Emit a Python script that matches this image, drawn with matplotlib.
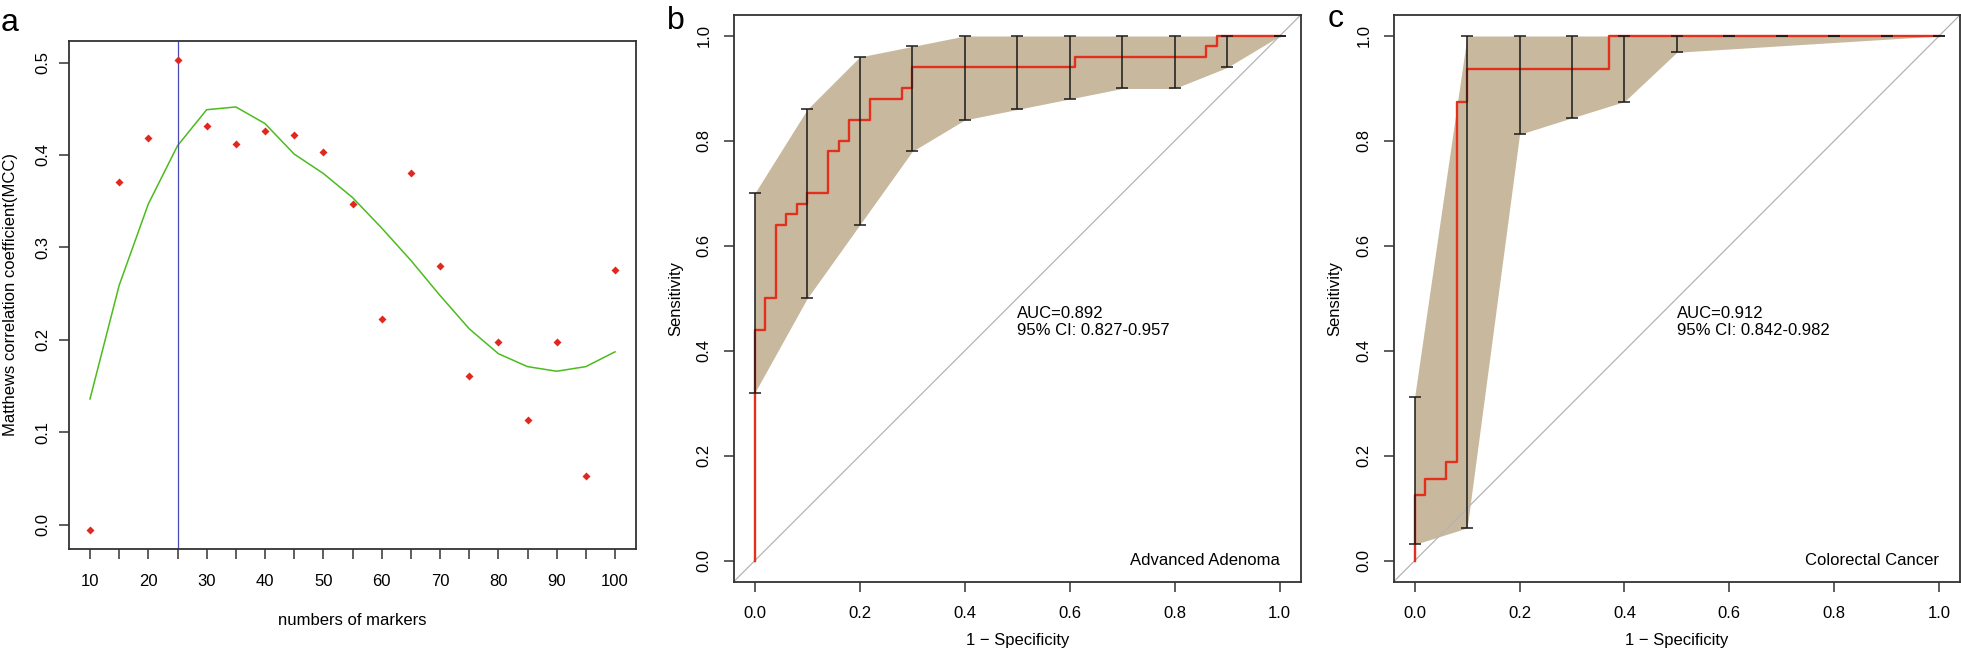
import numpy as np
import matplotlib
matplotlib.use("Agg")
import matplotlib.pyplot as plt

plt.rcParams['font.family'] = ['Liberation Sans', 'DejaVu Sans']

# panel a: MCC vs number of markers
n_markers = [10, 15, 20, 25, 30, 35, 40, 45, 50, 55, 60, 65, 70, 75, 80, 85, 90, 95, 100]
mcc = [-0.006, 0.371, 0.418, 0.503, 0.431, 0.412, 0.426, 0.422, 0.403, 0.347,
       0.222, 0.381, 0.280, 0.161, 0.198, 0.113, 0.198, 0.053, 0.276]
mcc_smooth = [0.136, 0.259, 0.347, 0.410, 0.449, 0.452, 0.434, 0.401, 0.380, 0.354,
              0.321, 0.286, 0.248, 0.212, 0.185, 0.171, 0.166, 0.171, 0.187]
best_n = 25

# panel b: advanced adenoma ROC
b_fpr = [0, 0, 0.02, 0.04, 0.06, 0.08, 0.10, 0.14, 0.16, 0.18, 0.22, 0.28, 0.30, 0.61, 0.86, 0.88, 1.0]
b_tpr = [0, 0.44, 0.50, 0.64, 0.66, 0.68, 0.70, 0.78, 0.80, 0.84, 0.88, 0.90, 0.94, 0.96, 0.98, 1.0, 1.0]
ci_x = [0, 0.1, 0.2, 0.3, 0.4, 0.5, 0.6, 0.7, 0.8, 0.9, 1.0]
b_lo = [0.32, 0.50, 0.64, 0.78, 0.84, 0.86, 0.88, 0.90, 0.90, 0.94, 1.0]
b_hi = [0.70, 0.86, 0.96, 0.98, 1.0, 1.0, 1.0, 1.0, 1.0, 1.0, 1.0]
b_text = "AUC=0.892\n95% CI: 0.827-0.957"
b_name = "Advanced Adenoma"

# panel c: colorectal cancer ROC
c_fpr = [0, 0, 0.02, 0.06, 0.08, 0.10, 0.37, 1.0]
c_tpr = [0, 0.125, 0.156, 0.1875, 0.875, 0.9375, 1.0, 1.0]
c_lo = [0.031, 0.0625, 0.8125, 0.844, 0.875, 0.969, 1.0, 1.0, 1.0, 1.0, 1.0]
c_hi = [0.3125, 1.0, 1.0, 1.0, 1.0, 1.0, 1.0, 1.0, 1.0, 1.0, 1.0]
c_shade_x = [0, 0.1, 0.2, 0.3, 0.4, 0.5, 1.0]
c_shade_lo = [0.031, 0.0625, 0.8125, 0.844, 0.875, 0.969, 1.0]
c_shade_hi = [0.3125, 1.0, 1.0, 1.0, 1.0, 1.0, 1.0]
c_text = "AUC=0.912\n95% CI: 0.842-0.982"
c_name = "Colorectal Cancer"

W, H = 1961, 653
fig = plt.figure(figsize=(W / 100, H / 100), dpi=100)

def px_axes(l, r, t, b):
    return fig.add_axes([l / W, 1 - b / H, (r - l) / W, (b - t) / H])

def style(ax, xpad, ypad):
    for s in ax.spines.values():
        s.set_linewidth(1.3)
        s.set_color('#333333')
    ax.tick_params(direction='out', length=7.2, width=1.1, color='#333333',
                   labelsize=12)
    ax.tick_params(axis='x', pad=xpad)
    ax.tick_params(axis='y', pad=ypad)

# ---- a ----
ax = px_axes(69, 636, 41, 549)
ax.plot(n_markers, mcc_smooth, color='#4cbb1e', lw=1.1, zorder=2)
ax.plot(n_markers, mcc, 'D', color='#e0281e', ms=4.2, mec='none', zorder=3)
ax.axvline(best_n, color='#4a4ab4', lw=0.9, zorder=2)
xr = max(n_markers) - min(n_markers)
ax.set_xlim(min(n_markers) - 0.04 * xr, max(n_markers) + 0.04 * xr)
yr = max(mcc) - min(mcc)
ax.set_ylim(min(mcc) - 0.04 * yr, max(mcc) + 0.04 * yr)
ax.set_xticks(n_markers)
ax.set_xticklabels([str(n) if n % 10 == 0 else '' for n in n_markers])
yt = [0.0, 0.1, 0.2, 0.3, 0.4, 0.5]
ax.set_yticks(yt)
ax.set_yticklabels(['%.1f' % v for v in yt], rotation=90, va='center')
style(ax, 10.8, 6.5)
fig.text(352 / W, 1 - 625 / H, "numbers of markers", ha='center', va='baseline', fontsize=12)
fig.text(11 / W, 1 - 295 / H, "Matthews correlation coefficient(MCC)", rotation=90,
         ha='center', va='center', fontsize=12)
fig.text(1 / W, 1 - 31 / H, "a", fontsize=23, ha='left', va='baseline')

# ---- b, c ----
def roc_panel(l, r, fpr, tpr, sx, slo, shi, lo, hi, txt, name, ylab_x, letter, lx, ly):
    ax = px_axes(l, r, 15, 581.7)
    ax.fill_between(sx, slo, shi, color='#c8b89e', lw=0, zorder=1)
    ax.plot([-0.04, 1.04], [-0.04, 1.04], color='#b4b4b4', lw=0.9, zorder=2)
    ax.step(fpr, tpr, where='post', color='#e2301c', lw=1.7, zorder=3)
    ax.errorbar(ci_x, [(a + b) / 2 for a, b in zip(lo, hi)],
                yerr=[[(b - a) / 2 for a, b in zip(lo, hi)], [(b - a) / 2 for a, b in zip(lo, hi)]],
                fmt='none', ecolor='#1a1a1a', elinewidth=1.1, capsize=4, capthick=1.1, zorder=4)
    ax.set_xlim(-0.04, 1.04)
    ax.set_ylim(-0.04, 1.04)
    t = [0, 0.2, 0.4, 0.6, 0.8, 1.0]
    ax.set_xticks(t)
    ax.set_xticklabels(['%.1f' % v for v in t])
    ax.set_yticks(t)
    ax.set_yticklabels(['%.1f' % v for v in t], rotation=90, va='center')
    style(ax, 10.3, 8.8)
    ax.text(0.5, 0.455, txt, ha='left', va='center', fontsize=12, linespacing=1.15)
    ax.text(1.0, 0.0, name, ha='right', va='center', fontsize=12)
    fig.text((l + r) / 2 / W, 1 - 645 / H, "1 \u2212 Specificity", ha='center', va='baseline', fontsize=12)
    fig.text(ylab_x / W, 1 - 298 / H, "Sensitivity", rotation=90, ha='center', va='center', fontsize=12)
    fig.text(lx / W, 1 - ly / H, letter, fontsize=23, ha='left', va='baseline')

roc_panel(733.7, 1300.7, b_fpr, b_tpr, ci_x, b_lo, b_hi, b_lo, b_hi, b_text, b_name,
          676, "b", 667, 29)
roc_panel(1393.7, 1960, c_fpr, c_tpr, c_shade_x, c_shade_lo, c_shade_hi, c_lo, c_hi, c_text, c_name,
          1335, "c", 1328, 27)

fig.savefig("out.png", dpi=100)
